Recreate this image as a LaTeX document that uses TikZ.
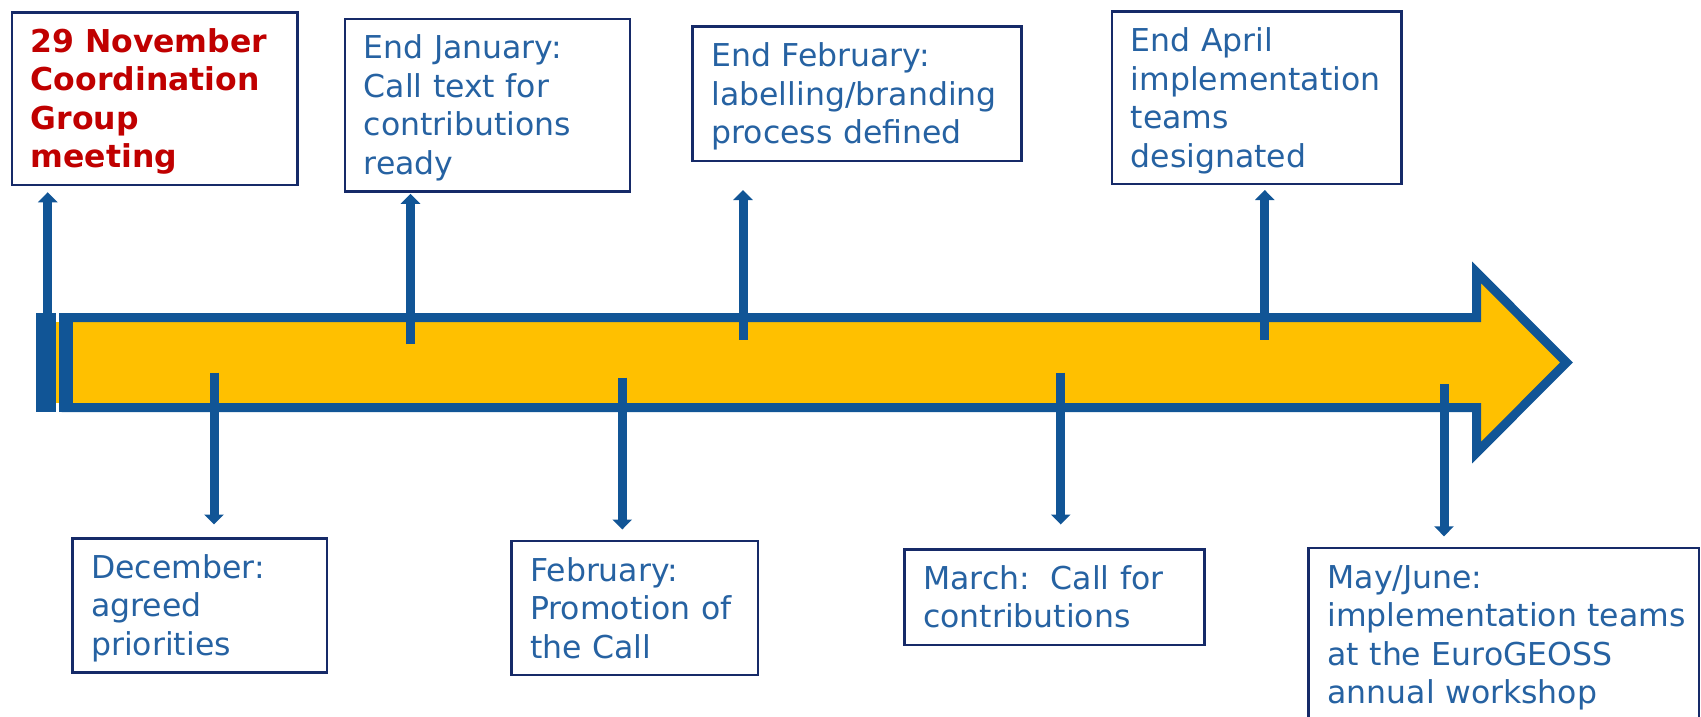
\documentclass[tikz,border=0pt]{standalone}
\usepackage{fontspec}
\setmainfont{DejaVu Sans}
\usetikzlibrary{arrows.meta}
\definecolor{barblue}{RGB}{17,85,150}
\definecolor{boxnavy}{RGB}{22,42,104}
\definecolor{txtblue}{RGB}{38,98,162}
\definecolor{gold}{RGB}{255,192,0}
\definecolor{meetred}{RGB}{192,0,0}
\hyphenpenalty=10000

\begin{document}
\begin{tikzpicture}[x=1pt,y=-1pt,
  evbox/.style={draw=boxnavy,line width=2.5pt,fill=white,anchor=north west,inner xsep=19pt,inner ysep=17pt,
    align=left,text=txtblue,text height=23pt,font=\fontsize{31.5}{38.5}\selectfont},
  tick/.style={barblue,line width=9pt,-{Triangle[width=19pt,length=10pt]}}]
\useasboundingbox (0,0) rectangle (1701,717);
% timeline band
\fill[gold] (55,322) rectangle (60,403);
\draw[barblue,fill=gold,line width=9pt,miter limit=20] (66,317.5) -- (1476.7,317.5) -- (1476.7,272.5) -- (1566.5,362.5)
  -- (1476.7,452.5) -- (1476.7,407.5) -- (66,407.5) -- cycle;
\fill[barblue] (35.7,313) rectangle (55.5,412.3);
\fill[barblue] (58.5,313) rectangle (72.7,412.3);
% events
\node[evbox,text=meetred,font=\fontsize{31.5}{38.5}\selectfont\bfseries,text width=247.9pt,text depth=115.5pt] (nov) at (10.5,11.25)
  {29 November\\Coordination\\Group\\meeting};
\node[evbox,text width=247.2pt,text depth=115.5pt] (jan) at (343.5,17.75) {End January:\\Call text for\\contributions\\ready};
\node[evbox,text width=291.2pt,text depth=77pt] (febend) at (691.25,25.5) {End February:\\labelling/branding\\process defined};
\node[evbox,text width=251.5pt,text depth=115.5pt] (apr) at (1110.5,10.4) {End April\\implementation\\teams\\designated};
\node[evbox,text width=216.8pt,text depth=77pt] (dec) at (71,537.2) {December:\\agreed\\priorities};
\node[evbox,text width=208.5pt,text depth=77pt] (feb) at (510,539.9) {February:\\Promotion~of\\the Call};
\node[evbox,text width=262.1pt,text depth=38.5pt] (mar) at (903,548.2) {March:~~Call for\\contributions};
\node[evbox,text width=352.5pt,text depth=115.5pt] (may) at (1307.25,546.75) {May/June:\\implementation~teams\\at the EuroGEOSS\\annual workshop};
% ticks on the band
\coordinate (t1) at (47.7,320);
\coordinate (t2) at (410.5,344);
\coordinate (t3) at (743,339.7);
\coordinate (t4) at (1264.8,339.7);
\coordinate (t5) at (214,372.7);
\coordinate (t6) at (622.3,377.7);
\coordinate (t7) at (1060.7,372.7);
\coordinate (t8) at (1444,384);
\draw[tick,shorten >=6pt] (t1) -- (t1 |- nov.south);
\draw[tick,shorten >=1pt] (t2) -- (t2 |- jan.south);
\draw[tick,shorten >=28pt] (t3) -- (t3 |- febend.south);
\draw[tick,shorten >=4.6pt] (t4) -- (t4 |- apr.south);
\draw[tick,shorten >=12.7pt] (t5) -- (t5 |- dec.north);
\draw[tick,shorten >=10.4pt] (t6) -- (t6 |- feb.north);
\draw[tick,shorten >=23.7pt] (t7) -- (t7 |- mar.north);
\draw[tick,shorten >=10.4pt] (t8) -- (t8 |- may.north);
\end{tikzpicture}
\end{document}
